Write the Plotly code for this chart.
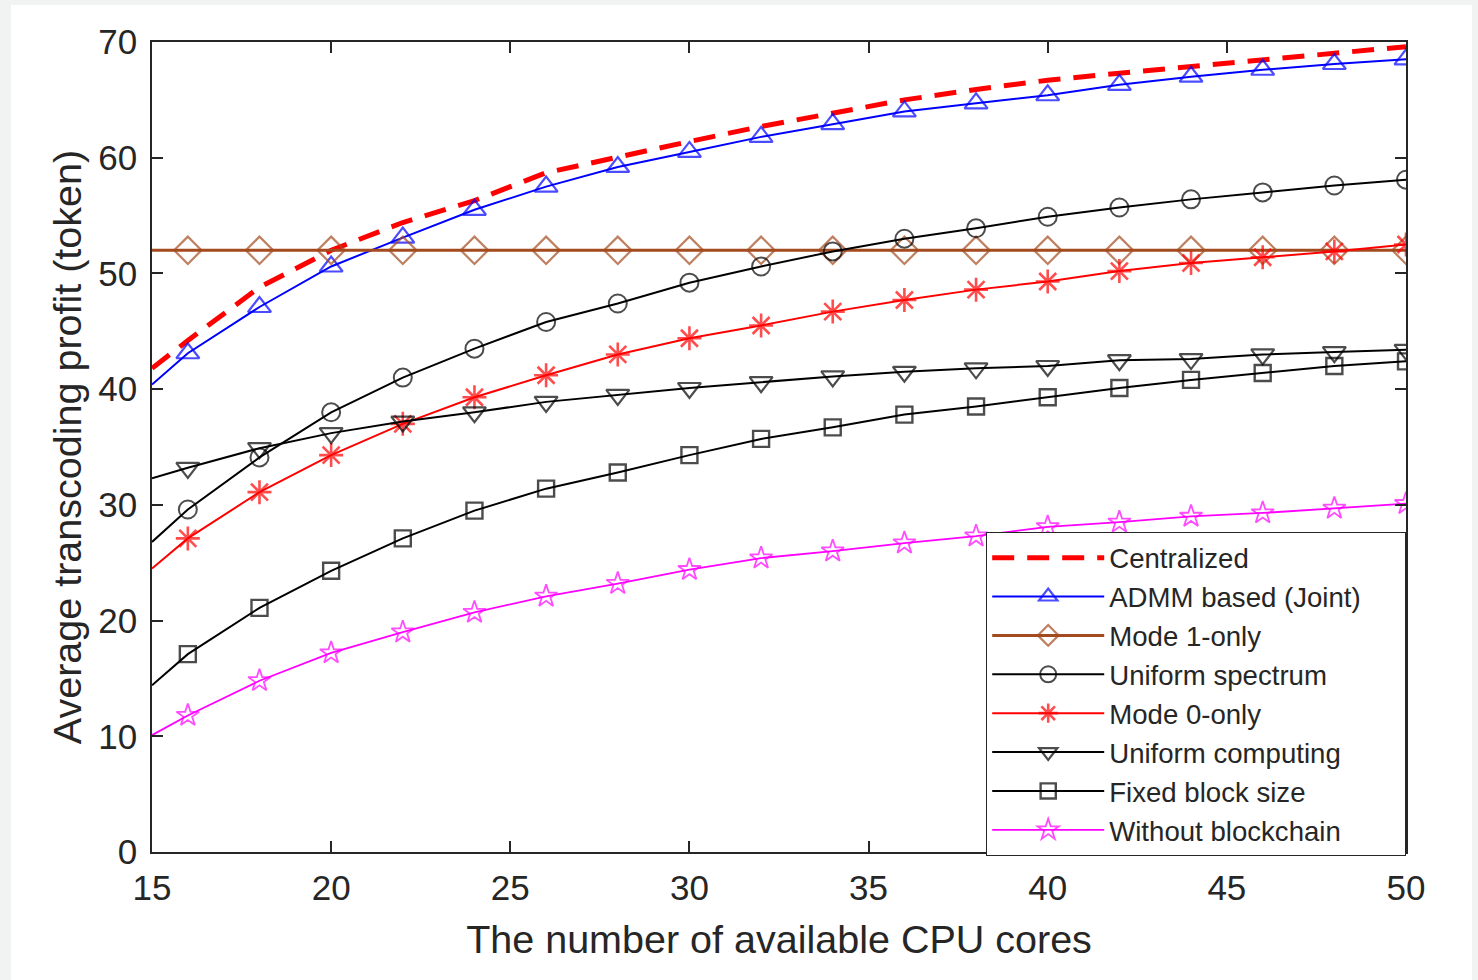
import plotly.graph_objects as go

x_vals = [15, 16, 18, 20, 22, 24, 26, 28, 30, 32, 34, 36, 38, 40, 42, 44, 46, 48, 50]

centralized = [41.8, 44.2, 48.8, 52.0, 54.4, 56.3, 58.7, 60.1, 61.4, 62.7, 63.9, 65.0, 65.9, 66.7, 67.3, 67.9, 68.5, 69.1, 69.6]
admm_joint = [40.4, 43.1, 47.1, 50.6, 53.1, 55.5, 57.5, 59.2, 60.5, 61.8, 62.9, 64.0, 64.7, 65.4, 66.3, 67.0, 67.6, 68.1, 68.5]
mode1_only = [52.0] * 19
uniform_spectrum = [26.8, 29.6, 34.1, 38.0, 41.0, 43.5, 45.8, 47.4, 49.2, 50.6, 51.9, 53.0, 53.9, 54.9, 55.7, 56.4, 57.0, 57.6, 58.1]
mode0_only = [24.5, 27.1, 31.1, 34.3, 37.0, 39.3, 41.2, 43.0, 44.4, 45.5, 46.7, 47.7, 48.6, 49.3, 50.2, 50.9, 51.4, 51.9, 52.5]
uniform_computing = [32.3, 33.2, 34.9, 36.2, 37.2, 38.0, 38.9, 39.5, 40.1, 40.6, 41.1, 41.5, 41.8, 42.0, 42.5, 42.6, 43.0, 43.2, 43.4]
fixed_block = [14.4, 17.1, 21.1, 24.3, 27.1, 29.5, 31.4, 32.8, 34.3, 35.7, 36.7, 37.8, 38.5, 39.3, 40.1, 40.8, 41.4, 42.0, 42.4]
without_blockchain = [10.1, 11.8, 14.8, 17.2, 19.0, 20.7, 22.1, 23.2, 24.4, 25.4, 26.0, 26.7, 27.3, 28.1, 28.5, 29.0, 29.3, 29.7, 30.1]

x_ticks = [15, 20, 25, 30, 35, 40, 45, 50]
y_ticks = [0, 10, 20, 30, 40, 50, 60, 70]

FONT = "Liberation Sans, Arial, sans-serif"
TXT = "#262626"
PAD = "\u00a0" * 5

def sizes(s):
    return [0] + [s] * (len(x_vals) - 1)

fig = go.Figure()

fig.add_trace(go.Scatter(x=x_vals, y=centralized, name="Centralized", mode="lines",
                         line=dict(color="#ff0000", width=5, dash="22px,13px")))
fig.add_trace(go.Scatter(x=x_vals, y=admm_joint, name="ADMM based (Joint)" + PAD, mode="lines+markers",
                         line=dict(color="#0000ff", width=2),
                         marker=dict(symbol="triangle-up-open", size=sizes(20), color="#0000ff",
                                     line=dict(width=2.2, color="#0000ff"))))
fig.add_trace(go.Scatter(x=x_vals, y=mode1_only, name="Mode 1-only", mode="lines+markers",
                         line=dict(color="#a34a1e", width=3),
                         marker=dict(symbol="diamond-open", size=sizes(21), color="#a34a1e",
                                     line=dict(width=2.2, color="#a34a1e"))))
fig.add_trace(go.Scatter(x=x_vals, y=uniform_spectrum, name="Uniform spectrum", mode="lines+markers",
                         line=dict(color="#000000", width=2),
                         marker=dict(symbol="circle-open", size=sizes(18), color="#000000",
                                     line=dict(width=2, color="#000000"))))
fig.add_trace(go.Scatter(x=x_vals, y=mode0_only, name="Mode 0-only", mode="lines+markers",
                         line=dict(color="#ff0000", width=2),
                         marker=dict(symbol="asterisk-open", size=sizes(20), color="#ff0000",
                                     line=dict(width=2.6, color="#ff0000"))))
fig.add_trace(go.Scatter(x=x_vals, y=uniform_computing, name="Uniform computing", mode="lines+markers",
                         line=dict(color="#000000", width=2),
                         marker=dict(symbol="triangle-down-open", size=sizes(20), color="#000000",
                                     line=dict(width=2.2, color="#000000"))))
fig.add_trace(go.Scatter(x=x_vals, y=fixed_block, name="Fixed block size", mode="lines+markers",
                         line=dict(color="#000000", width=2),
                         marker=dict(symbol="square-open", size=sizes(16), color="#000000",
                                     line=dict(width=2.4, color="#000000"))))
fig.add_trace(go.Scatter(x=x_vals, y=without_blockchain, name="Without blockchain", mode="lines+markers",
                         line=dict(color="#ff00ff", width=1.8),
                         marker=dict(symbol="star-open", size=sizes(17), color="#ff00ff",
                                     line=dict(width=1.8, color="#ff00ff"))))

L, R, T, B = 152, 72, 42, 128
W, H = 1478, 980
pw, ph = W - L - R, H - T - B

fig.add_shape(type="rect", xref="paper", yref="paper",
              x0=(11 - L) / pw, x1=(1472 - L) / pw,
              y0=-(B + 10) / ph, y1=(852 - 5) / ph,
              fillcolor="white", line=dict(width=0), layer="below")

axis_common = dict(showline=True, linecolor=TXT, linewidth=1.5, mirror="ticks",
                   ticks="inside", ticklen=11, tickwidth=1.5, tickcolor=TXT,
                   showgrid=False, zeroline=False, automargin=False,
                   tickfont=dict(family=FONT, size=35, color=TXT))

fig.update_layout(
    width=W, height=H,
    margin=dict(l=L, r=R, t=T, b=B, autoexpand=False),
    paper_bgcolor="#f1f2f2",
    plot_bgcolor="white",
    font=dict(family=FONT, color=TXT),
    xaxis=dict(range=[15, 50], tickvals=x_ticks, ticklabelstandoff=4,
               title=dict(text="The number of available CPU cores", font=dict(family=FONT, size=39.5, color=TXT), standoff=20),
               **axis_common),
    yaxis=dict(range=[0, 70], tickvals=y_ticks, ticklabelstandoff=6,
               title=dict(text="Average transcoding profit (token)", font=dict(family=FONT, size=39.5, color=TXT), standoff=4),
               **axis_common),
    legend=dict(x=1.0, y=(852 - 532) / ph, xanchor="right", yanchor="top",
                bgcolor="white", bordercolor=TXT, borderwidth=1.2,
                font=dict(family=FONT, size=27.6, color=TXT),
                itemwidth=112, tracegroupgap=0),
    showlegend=True,
)

fig.write_html("out.html", config={"displayModeBar": False},
               post_script="document.body.style.margin='0';document.body.style.background='#f1f2f2';")
